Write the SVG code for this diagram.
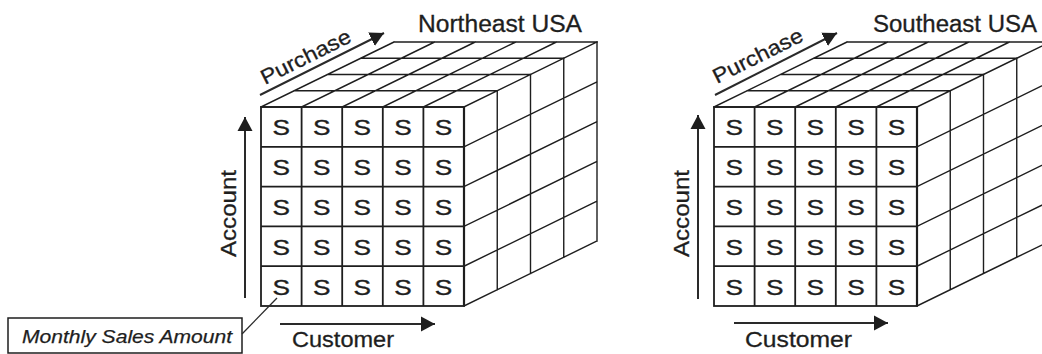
<svg xmlns="http://www.w3.org/2000/svg" xmlns:xlink="http://www.w3.org/1999/xlink" width="1042" height="354" viewBox="0 0 1042 354">
<style>
.grid{fill:none;stroke:#1e1e1e;stroke-width:1.4;stroke-linecap:square}
.front{fill:none;stroke:#1e1e1e;stroke-width:1.8}
.edge{fill:none;stroke:#1e1e1e;stroke-width:2.2}
.s{font-family:"Liberation Sans",Arial,sans-serif;font-size:22px;fill:#1e1e1e;stroke:#1e1e1e;stroke-width:0.35}
.lbl{font-family:"Liberation Sans",Arial,sans-serif;font-size:22px;fill:#1e1e1e;stroke:#1e1e1e;stroke-width:0.3}
.ax{fill:none;stroke:#2a2a2a;stroke-width:2}
.lead{fill:none;stroke:#2a2a2a;stroke-width:1.3}
.box{fill:#fff;stroke:#1e1e1e;stroke-width:1.5}
.it{font-family:"Liberation Sans",Arial,sans-serif;font-size:19px;font-style:italic;fill:#1e1e1e;stroke:#1e1e1e;stroke-width:0.25}
</style>
<defs>
<marker id="ah" markerUnits="userSpaceOnUse" markerWidth="15" markerHeight="16" refX="14" refY="8" orient="auto" viewBox="0 0 15 16">
<path d="M0,0.5 L14,8 L0,15.5 z" fill="#1e1e1e"/>
</marker>
<g id="cubeGrid">
<rect x="0" y="0" width="203" height="199" fill="#fff"/>
<path class="grid" d="M0,0H203 M33.25,-16.25H236.25 M66.5,-32.5H269.5 M99.75,-48.75H302.75 M133,-65H336 M0,0l133,-65 M40.6,0l133,-65 M81.2,0l133,-65 M121.8,0l133,-65 M162.4,0l133,-65 M203,0l133,-65"/>
<path class="grid" d="M236.25,-16.25v199 M269.5,-32.5v199 M302.75,-48.75v199 M336,-65v199 M203,39.8l133,-65 M203,79.6l133,-65 M203,119.4l133,-65 M203,159.2l133,-65 M203,199l133,-65"/>
<path class="front" d="M40.6,0v199 M81.2,0v199 M121.8,0v199 M162.4,0v199 M0,39.8h203 M0,79.6h203 M0,119.4h203 M0,159.2h203"/>
<rect class="front" x="0" y="0" width="203" height="199"/>
<path class="edge" d="M203,0V199"/>
</g>
<g id="sCells">
<text class="s" x="11.4" y="28.4" textLength="17.5" lengthAdjust="spacingAndGlyphs">S</text>
<text class="s" x="52" y="28.4" textLength="17.5" lengthAdjust="spacingAndGlyphs">S</text>
<text class="s" x="92.6" y="28.4" textLength="17.5" lengthAdjust="spacingAndGlyphs">S</text>
<text class="s" x="133.2" y="28.4" textLength="17.5" lengthAdjust="spacingAndGlyphs">S</text>
<text class="s" x="173.8" y="28.4" textLength="17.5" lengthAdjust="spacingAndGlyphs">S</text>
<text class="s" x="11.4" y="68.2" textLength="17.5" lengthAdjust="spacingAndGlyphs">S</text>
<text class="s" x="52" y="68.2" textLength="17.5" lengthAdjust="spacingAndGlyphs">S</text>
<text class="s" x="92.6" y="68.2" textLength="17.5" lengthAdjust="spacingAndGlyphs">S</text>
<text class="s" x="133.2" y="68.2" textLength="17.5" lengthAdjust="spacingAndGlyphs">S</text>
<text class="s" x="173.8" y="68.2" textLength="17.5" lengthAdjust="spacingAndGlyphs">S</text>
<text class="s" x="11.4" y="108" textLength="17.5" lengthAdjust="spacingAndGlyphs">S</text>
<text class="s" x="52" y="108" textLength="17.5" lengthAdjust="spacingAndGlyphs">S</text>
<text class="s" x="92.6" y="108" textLength="17.5" lengthAdjust="spacingAndGlyphs">S</text>
<text class="s" x="133.2" y="108" textLength="17.5" lengthAdjust="spacingAndGlyphs">S</text>
<text class="s" x="173.8" y="108" textLength="17.5" lengthAdjust="spacingAndGlyphs">S</text>
<text class="s" x="11.4" y="147.8" textLength="17.5" lengthAdjust="spacingAndGlyphs">S</text>
<text class="s" x="52" y="147.8" textLength="17.5" lengthAdjust="spacingAndGlyphs">S</text>
<text class="s" x="92.6" y="147.8" textLength="17.5" lengthAdjust="spacingAndGlyphs">S</text>
<text class="s" x="133.2" y="147.8" textLength="17.5" lengthAdjust="spacingAndGlyphs">S</text>
<text class="s" x="173.8" y="147.8" textLength="17.5" lengthAdjust="spacingAndGlyphs">S</text>
<text class="s" x="11.4" y="187.6" textLength="17.5" lengthAdjust="spacingAndGlyphs">S</text>
<text class="s" x="52" y="187.6" textLength="17.5" lengthAdjust="spacingAndGlyphs">S</text>
<text class="s" x="92.6" y="187.6" textLength="17.5" lengthAdjust="spacingAndGlyphs">S</text>
<text class="s" x="133.2" y="187.6" textLength="17.5" lengthAdjust="spacingAndGlyphs">S</text>
<text class="s" x="173.8" y="187.6" textLength="17.5" lengthAdjust="spacingAndGlyphs">S</text>
</g>
</defs>
<rect width="1042" height="354" fill="#fff"/>

<g id="cube-northeast">
<use xlink:href="#cubeGrid" href="#cubeGrid" transform="translate(261,107)"/>
<use xlink:href="#sCells" href="#sCells" transform="translate(261,107)"/>
<text class="lbl" x="418" y="32" textLength="164" lengthAdjust="spacingAndGlyphs" style="font-size:23px">Northeast USA</text>
<text class="lbl" transform="translate(265,85) rotate(-26.5)" textLength="98" lengthAdjust="spacingAndGlyphs" style="font-size:21px">Purchase</text>
<text class="lbl" transform="translate(236,213.5) rotate(-90)" text-anchor="middle" textLength="87" lengthAdjust="spacingAndGlyphs" style="font-size:22px">Account</text>
<text class="lbl" x="292" y="347" textLength="102" lengthAdjust="spacingAndGlyphs" style="font-size:22px">Customer</text>
</g>

<g id="cube-southeast">
<use xlink:href="#cubeGrid" href="#cubeGrid" transform="translate(714,107)"/>
<use xlink:href="#sCells" href="#sCells" transform="translate(714,107)"/>
<text class="lbl" x="873" y="32" textLength="164" lengthAdjust="spacingAndGlyphs" style="font-size:23px">Southeast USA</text>
<text class="lbl" transform="translate(717,84) rotate(-26.5)" textLength="98" lengthAdjust="spacingAndGlyphs" style="font-size:21px">Purchase</text>
<text class="lbl" transform="translate(689,213.5) rotate(-90)" text-anchor="middle" textLength="87" lengthAdjust="spacingAndGlyphs" style="font-size:22px">Account</text>
<text class="lbl" x="745" y="347" textLength="107" lengthAdjust="spacingAndGlyphs" style="font-size:22px">Customer</text>
</g>

<g id="label-monthly-sales">
<rect class="box" x="8" y="318" width="234" height="35"/>
<text class="it" x="22" y="343" textLength="210" lengthAdjust="spacingAndGlyphs">Monthly Sales Amount</text>
</g>

<g id="connectors">
<line class="ax" x1="260" y1="95" x2="384" y2="33" marker-end="url(#ah)"/>
<line class="ax" x1="245" y1="298" x2="245" y2="117" marker-end="url(#ah)"/>
<line class="ax" x1="280" y1="324" x2="435" y2="324" marker-end="url(#ah)"/>
<line class="ax" x1="715" y1="95" x2="837" y2="33" marker-end="url(#ah)"/>
<line class="ax" x1="698" y1="299" x2="698" y2="115" marker-end="url(#ah)"/>
<line class="ax" x1="734" y1="323" x2="888" y2="323" marker-end="url(#ah)"/>
<line class="lead" x1="242" y1="334" x2="277" y2="298"/>
</g>
</svg>
